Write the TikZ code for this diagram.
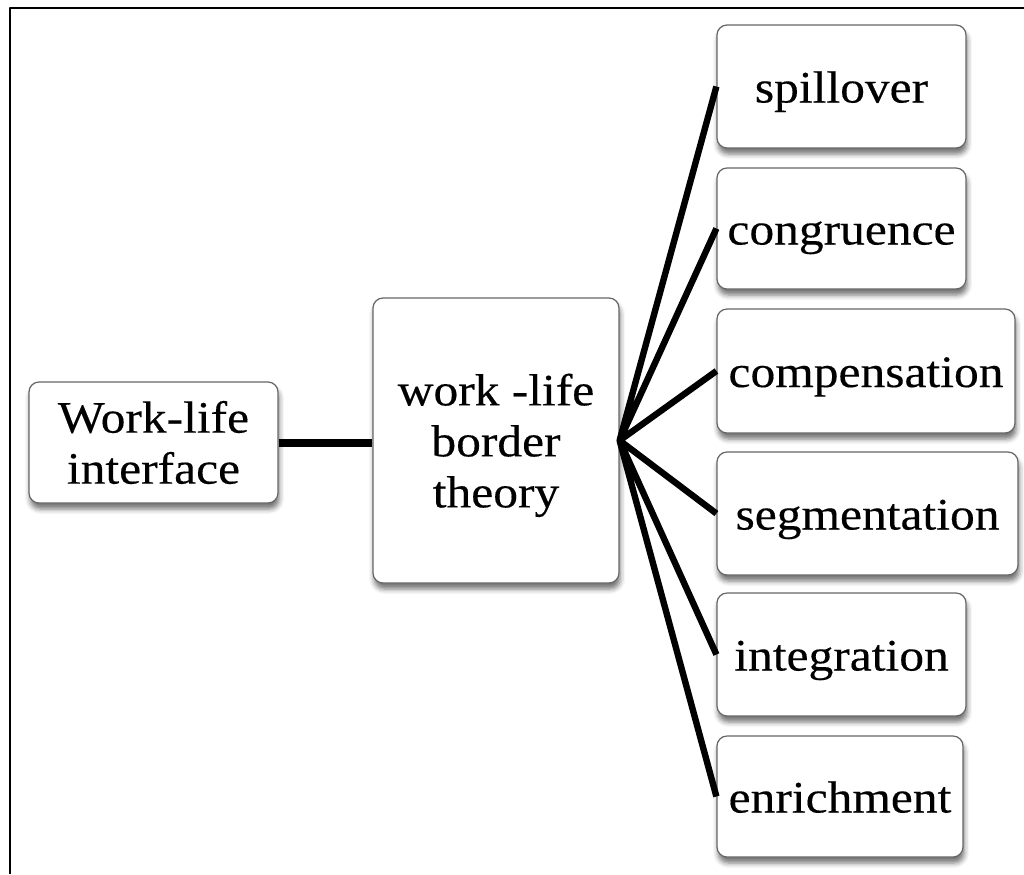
\documentclass[tikz,border=0pt]{standalone}
\usepackage{fontspec}
\setmainfont{Liberation Serif}[FakeStretch=1.1,FakeBold=0.3]
\usetikzlibrary{shadows.blur}
\begin{document}
\begin{tikzpicture}[x=0.5pt,y=-0.5pt,line join=round,
	hop/.style={draw=black!60,line width=0.6pt,rounded corners=5pt,fill=white,inner sep=0pt,align=center,
		font=\fontsize{22.5pt}{25.5pt}\selectfont,
		blur shadow={shadow xshift=0.6pt,shadow yshift=-3pt,shadow blur radius=2.5pt,shadow opacity=55}},
	nhanh/.style={hop,text height=21pt,text depth=5pt},
	noi/.style={line width=3.2pt}]
	\useasboundingbox (0,0) rectangle (1024,874);
	%Khung
	\draw[line width=1pt] (10,874)--(10,7.5)--(1024,7.5);
	%Cac hop
	\node[hop,minimum width=124.5pt,minimum height=60.5pt] (wli) at (153.5,442.5) {Work-life\\interface};
	\node[hop,minimum width=123pt,minimum height=142.5pt,text depth=0pt] (wlbt) at (496,440.5) {work -life\\border\\theory};
	\node[nhanh,minimum width=124.5pt,minimum height=61.5pt] (spill) at (841.5,86.5) {spillover};
	\node[nhanh,minimum width=124.5pt,minimum height=60.5pt] (cong) at (841.5,228.5) {congruence};
	\node[nhanh,minimum width=149pt,minimum height=62pt] (comp) at (866,371) {compensation};
	\node[nhanh,minimum width=150.5pt,minimum height=61.5pt] (segm) at (867.5,513.5) {segmentation};
	\node[nhanh,minimum width=124.5pt,minimum height=61.5pt] (integ) at (841.5,654.5) {integration};
	\node[nhanh,minimum width=123pt,minimum height=60.5pt] (enrich) at (840,796.5) {enrichment};
	%Duong noi
	\draw[line width=4pt] (wli.east)--(wlbt.west|-wli.east);
	\draw[noi] (spill.west)--(wlbt.east)--(cong.west) (comp.west)--(wlbt.east)--(segm.west) (integ.west)--(wlbt.east)--(enrich.west);
\end{tikzpicture}
\end{document}
